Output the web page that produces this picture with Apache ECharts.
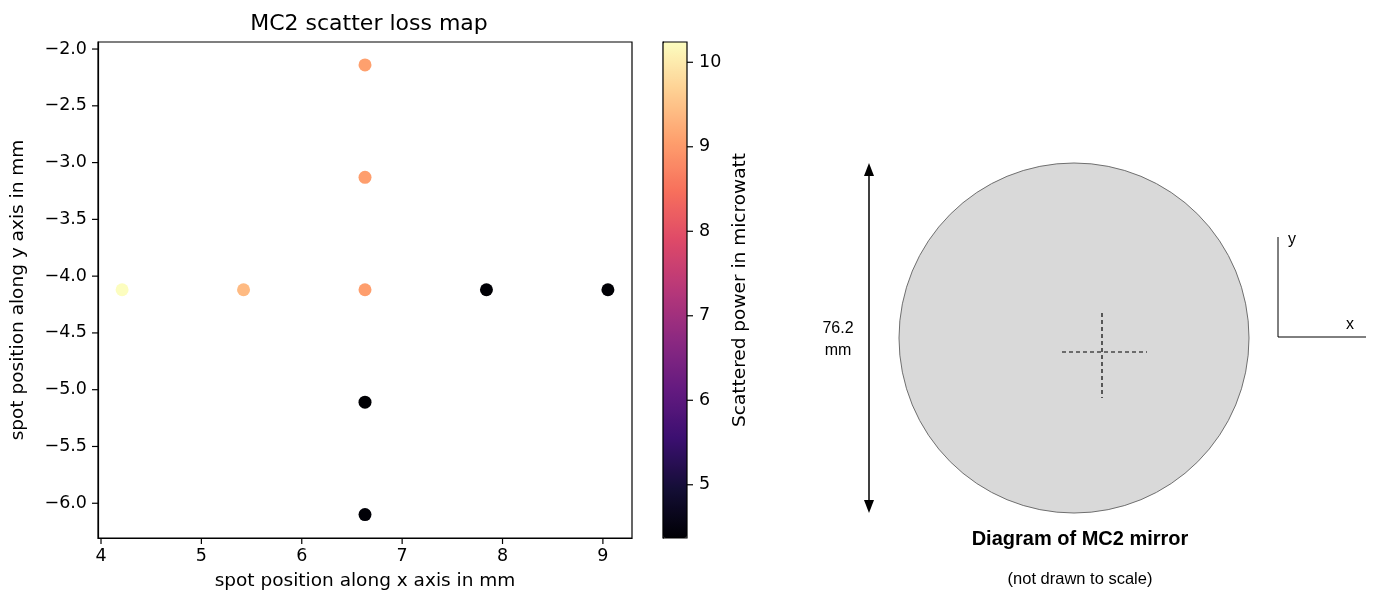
<!DOCTYPE html>
<html>
<head>
<meta charset="utf-8">
<script src="https://cdn.jsdelivr.net/npm/echarts@6/dist/echarts.min.js"></script>
<style>html,body{margin:0;padding:0;background:#fff}#c{width:1375px;height:599px}</style>
</head>
<body>
<div id="c"></div>
<script>
// ---- data ----
const spotX = [4.21, 5.42, 6.63, 7.84, 9.05, 6.63, 6.63, 6.63, 6.63];
const spotY = [-4.12, -4.12, -4.12, -4.12, -4.12, -2.14, -3.13, -5.11, -6.10];
const power = [10.24, 9.40, 9.05, 4.38, 4.38, 9.08, 9.05, 4.37, 4.40];
const xTicks = [4, 5, 6, 7, 8, 9];
const yTicks = [-6.0, -5.5, -5.0, -4.5, -4.0, -3.5, -3.0, -2.5, -2.0];
const cbTicks = [5, 6, 7, 8, 9, 10];
const powerMin = 4.37, powerMax = 10.24;
const magma = ['#000004','#140e36','#3b0f70','#641a80','#8c2981','#b73779','#de4968','#f7705c','#fe9f6d','#fecf92','#fcfdbf'];

const F = 'DejaVu Sans';
const fmtMinus = v => (v < 0 ? '\u2212' : '') + Math.abs(v).toFixed(1);
const TICK_LEN = 6;

function tickSeries(xIdx, yIdx, values, dir, other) {
  return {
    type: 'custom', xAxisIndex: xIdx, yAxisIndex: yIdx, clip: false, silent: true, z: 5,
    data: values.map(v => dir === 'x' ? [v, other] : [other, v]),
    renderItem: (params, api) => {
      const cs = params.coordSys;
      const p = api.coord([api.value(0), api.value(1)]);
      let shape;
      if (dir === 'x') {
        const y0 = cs.y + cs.height;
        shape = {x1: p[0], y1: y0, x2: p[0], y2: y0 + TICK_LEN};
      } else if (dir === 'yl') {
        shape = {x1: cs.x, y1: p[1], x2: cs.x - TICK_LEN, y2: p[1]};
      } else {
        const x0 = cs.x + cs.width;
        shape = {x1: x0, y1: p[1], x2: x0 + TICK_LEN, y2: p[1]};
      }
      return {type: 'line', shape: shape, style: {stroke: '#000', lineWidth: 1.2}};
    }
  };
}

const chart = echarts.init(document.getElementById('c'), null, {renderer: 'canvas'});
chart.setOption({
  animation: false,
  backgroundColor: '#fff',
  title: {
    text: 'MC2 scatter loss map', left: 364, top: 8, textAlign: 'center',
    textStyle: {fontFamily: F, fontSize: 22, fontWeight: 'normal', color: '#000'}
  },
  grid: [
    {left: 98, top: 42, width: 534, height: 496, show: true, borderColor: '#000', borderWidth: 1.2, backgroundColor: 'transparent', z: 3},
    {left: 663, top: 42, width: 24, height: 496, show: true, borderColor: '#000', borderWidth: 1.2, backgroundColor: 'transparent', z: 3}
  ],
  xAxis: [
    {type: 'value', gridIndex: 0, min: 3.97, max: 9.29,
     name: 'spot position along x axis in mm', nameLocation: 'middle', nameGap: 34,
     nameTextStyle: {fontFamily: F, fontSize: 18.5, color: '#000'},
     axisLine: {show: true, onZero: false, lineStyle: {color: '#000', width: 1.2}},
     axisTick: {show: false},
     axisLabel: {fontFamily: F, fontSize: 17.5, color: '#000', margin: 9, customValues: xTicks},
     splitLine: {show: false}},
    {type: 'value', gridIndex: 1, min: 0, max: 1, show: false}
  ],
  yAxis: [
    {type: 'value', gridIndex: 0, min: -6.306, max: -1.938,
     name: 'spot position along y axis in mm', nameLocation: 'middle', nameGap: 70,
     nameTextStyle: {fontFamily: F, fontSize: 18.5, color: '#000'},
     axisLine: {show: true, onZero: false, lineStyle: {color: '#000', width: 1.2}},
     axisTick: {show: false},
     axisLabel: {fontFamily: F, fontSize: 17.5, color: '#000', margin: 11, customValues: yTicks, formatter: fmtMinus},
     splitLine: {show: false}},
    {type: 'value', gridIndex: 1, min: powerMin, max: powerMax, position: 'right',
     name: 'Scattered power in microwatt', nameLocation: 'middle', nameGap: 44, nameRotate: 90,
     nameTextStyle: {fontFamily: F, fontSize: 18.5, color: '#000'},
     axisLine: {show: true, lineStyle: {color: '#000', width: 1.2}},
     axisTick: {show: false},
     axisLabel: {fontFamily: F, fontSize: 17.5, color: '#000', margin: 12, customValues: cbTicks},
     splitLine: {show: false}}
  ],
  visualMap: {
    type: 'continuous', min: powerMin, max: powerMax, dimension: 2, seriesIndex: 0,
    inRange: {color: magma}, calculable: false, hoverLink: false,
    left: 663, top: 42, itemWidth: 24, itemHeight: 496, padding: 0, z: 1,
    orient: 'vertical', text: null, showLabel: false
  },
  series: [
    {
      type: 'scatter', xAxisIndex: 0, yAxisIndex: 0, symbolSize: 13,
      data: spotX.map((x, i) => [x, spotY[i], power[i]]),
      itemStyle: {opacity: 1}
    },
    tickSeries(0, 0, xTicks, 'x', -4),
    tickSeries(0, 0, yTicks, 'yl', 6),
    tickSeries(1, 1, cbTicks, 'yr', 0.5)
  ],
  graphic: [
    {type: 'circle', shape: {cx: 1074, cy: 338, r: 175}, style: {fill: '#d9d9d9', stroke: '#6f6f6f', lineWidth: 1}},
    {type: 'line', shape: {x1: 1062, y1: 352, x2: 1147, y2: 352}, style: {stroke: '#000', lineWidth: 1.2, lineDash: [4, 3]}},
    {type: 'line', shape: {x1: 1102, y1: 313, x2: 1102, y2: 398}, style: {stroke: '#000', lineWidth: 1.2, lineDash: [4, 3]}},
    {type: 'line', shape: {x1: 869, y1: 170, x2: 869, y2: 506}, style: {stroke: '#000', lineWidth: 1.5}},
    {type: 'polygon', shape: {points: [[869, 163], [864, 176], [874, 176]]}, style: {fill: '#000'}},
    {type: 'polygon', shape: {points: [[869, 513], [864, 500], [874, 500]]}, style: {fill: '#000'}},
    {type: 'text', x: 838, y: 329, style: {text: '76.2', font: '16px "Liberation Sans"', fill: '#000', align: 'center', verticalAlign: 'middle'}},
    {type: 'text', x: 838, y: 351, style: {text: 'mm', font: '16px "Liberation Sans"', fill: '#000', align: 'center', verticalAlign: 'middle'}},
    {type: 'line', shape: {x1: 1278, y1: 237, x2: 1278, y2: 337}, style: {stroke: '#000', lineWidth: 1}},
    {type: 'line', shape: {x1: 1278, y1: 337, x2: 1366, y2: 337}, style: {stroke: '#000', lineWidth: 1}},
    {type: 'text', x: 1292, y: 240, style: {text: 'y', font: '16px "Liberation Sans"', fill: '#000', align: 'center', verticalAlign: 'middle'}},
    {type: 'text', x: 1350, y: 325, style: {text: 'x', font: '16px "Liberation Sans"', fill: '#000', align: 'center', verticalAlign: 'middle'}},
    {type: 'text', x: 1080, y: 539, style: {text: 'Diagram of MC2 mirror', font: 'bold 20px "Liberation Sans"', fill: '#000', align: 'center', verticalAlign: 'middle'}},
    {type: 'text', x: 1080, y: 579, style: {text: '(not drawn to scale)', font: '16.5px "Liberation Sans"', fill: '#000', align: 'center', verticalAlign: 'middle'}}
  ]
});
</script>
</body>
</html>
